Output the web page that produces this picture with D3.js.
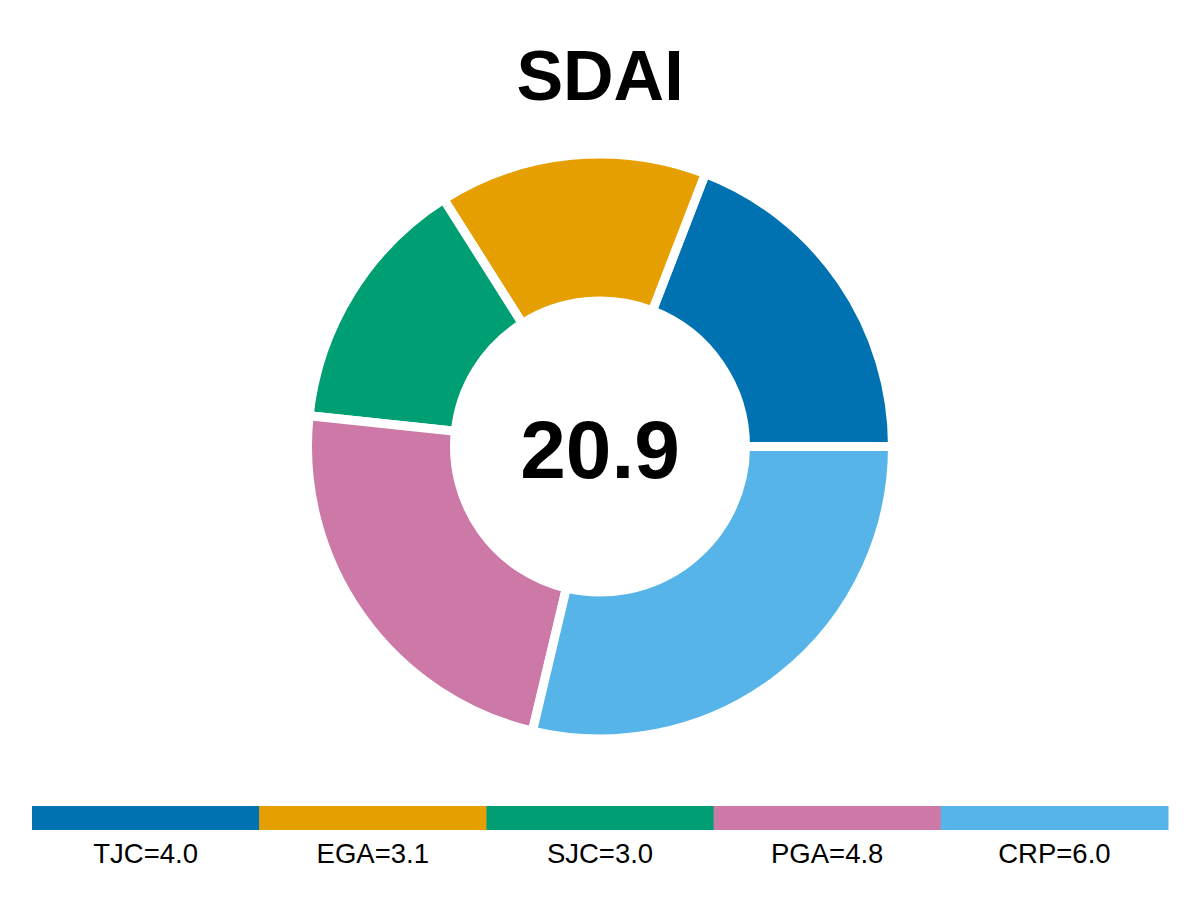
<!DOCTYPE html>
<html>
<head>
<meta charset="utf-8">
<script src="https://cdn.jsdelivr.net/npm/d3@7"></script>
<style>
  body { margin: 0; background: #fff; }
  text { font-family: "Liberation Sans", Arial, Helvetica, sans-serif; }
</style>
</head>
<body>
<div id="chart"></div>
<script>
// data
const components = ["TJC", "EGA", "SJC", "PGA", "CRP"]
const scores = [4.0, 3.1, 3.0, 4.8, 6.0]
const colors = ["#0072B2", "#E69F00", "#009E73", "#CC79A7", "#56B4E9"]
const title = "SDAI"

const width = 1200, height = 900
const cx = 600, cy = 446.5
const gap = 9

const total = d3.sum(scores)

const svg = d3.select("#chart")
  .append("svg")
    .attr("width", width)
    .attr("height", height)

svg.append("rect")
  .attr("width", width)
  .attr("height", height)
  .attr("fill", "white")

// title
svg.append("text")
  .attr("x", width / 2)
  .attr("y", 100)
  .attr("text-anchor", "middle")
  .attr("font-size", 70)
  .attr("font-weight", "bold")
  .text(title)

// donut, starting at 3 o'clock and running counter-clockwise
const pie = d3.pie()
  .sort(null)
  .value(d => d.value)
  .startAngle(Math.PI / 2)
  .endAngle(Math.PI / 2 - 2 * Math.PI)

const arc = d3.arc()
  .innerRadius(150 - gap / 2)
  .outerRadius(288 + gap / 2)

const slices = components.map((c, i) => ({name: c, value: scores[i], color: colors[i]}))

const g = svg.append("g")
  .attr("transform", `translate(${cx},${cy})`)

g.selectAll("path")
  .data(pie(slices))
  .join("path")
    .attr("d", arc)
    .attr("fill", d => d.data.color)
    .attr("stroke", "white")
    .attr("stroke-width", gap)
    .attr("stroke-linejoin", "miter")

g.append("text")
  .attr("x", 0)
  .attr("y", 31)
  .attr("text-anchor", "middle")
  .attr("font-size", 82)
  .attr("font-weight", "bold")
  .text(d3.format(".1f")(total))

// legend strip
const x = d3.scaleBand()
  .domain(components)
  .range([32, 1168])
  .padding(0)

const legend = svg.append("g")

legend.selectAll("rect")
  .data(slices)
  .join("rect")
    .attr("x", d => x(d.name))
    .attr("y", 806)
    .attr("width", x.bandwidth() + 0.5)
    .attr("height", 24)
    .attr("fill", d => d.color)

legend.selectAll("text")
  .data(slices)
  .join("text")
    .attr("x", d => x(d.name) + x.bandwidth() / 2)
    .attr("y", 862.5)
    .attr("text-anchor", "middle")
    .attr("font-size", 27.5)
    .text(d => `${d.name}=${d3.format(".1f")(d.value)}`)
</script>
</body>
</html>
